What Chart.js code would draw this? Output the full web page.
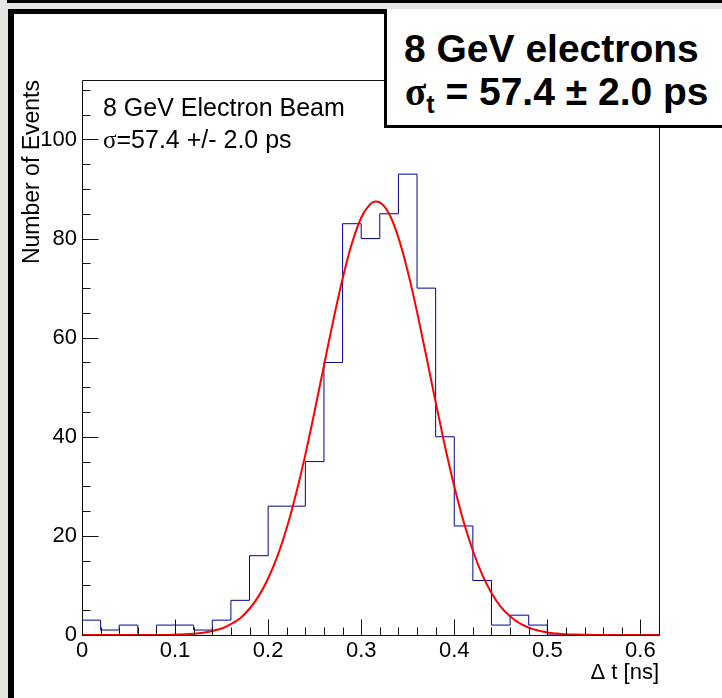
<!DOCTYPE html>
<html>
<head>
<meta charset="utf-8">
<script src="https://cdn.jsdelivr.net/npm/chart.js@4.4.1/dist/chart.umd.min.js"></script>
<style>
  html, body { margin: 0; padding: 0; }
  body {
    width: 722px; height: 698px; position: relative; overflow: hidden;
    background: #e6e4e0;
    font-family: "Liberation Sans", Arial, Helvetica, sans-serif;
  }
  #wrap { position: absolute; left: 0; top: 0; width: 722px; height: 698px; background: #fff; }
  .blk { position: absolute; background: #000; }
  .gry { position: absolute; background: #e6e4e0; }
  .txt { position: absolute; white-space: nowrap; line-height: 1; color: #000; }
  .sym { font-family: "Liberation Serif", "DejaVu Serif", serif; }
  #box {
    position: absolute; left: 384px; top: 9px; width: 400px; height: 119px;
    box-sizing: border-box; background: #fff;
    border-left: 3px solid #000; border-bottom: 3px solid #000;
  }
  .big { font-size: 39px; font-weight: bold; }
  .sub { font-size: 25px; position: relative; top: 8px; }
</style>
</head>
<body>
<div id="wrap"><canvas id="chart" width="722" height="698"></canvas></div>

<!-- slide edges -->
<div class="gry" style="left:0; top:0; width:8px; height:698px;"></div>
<div class="gry" style="left:0; top:0; width:722px; height:9px;"></div>
<div class="blk" style="left:7px; top:0; width:715px; height:3px;"></div>
<div class="blk" style="left:8px; top:9px; width:714px; height:5px;"></div>
<div class="blk" style="left:8px; top:9px; width:6px; height:689px;"></div>

<!-- text inside the frame -->
<div class="txt" style="left:103px; top:95px; font-size:25px;">8 GeV Electron Beam</div>
<div class="txt" style="left:103px; top:127px; font-size:25px;"><span class="sym">σ</span>=57.4 +/- 2.0 ps</div>

<!-- result box -->
<div id="box"></div>
<div class="txt big" style="left:404px; top:29px;">8 GeV electrons</div>
<div class="txt big" style="left:405px; top:72px;"><span class="sym">σ</span><span class="sub">t</span> = 57.4 ± 2.0 ps</div>

<script>
// ── Data ────────────────────────────────────────────────
// histogram: bin edges (ns) and counts per 0.02 ns bin
const BIN_EDGES = [0.00, 0.02, 0.04, 0.06, 0.08, 0.10, 0.12, 0.14, 0.16, 0.18,
                   0.20, 0.22, 0.24, 0.26, 0.28, 0.30, 0.32, 0.34, 0.36, 0.38,
                   0.40, 0.42, 0.44, 0.46, 0.48, 0.50, 0.52, 0.54, 0.56, 0.58,
                   0.60, 0.62];
const COUNTS = [3, 1, 2, 0, 2, 2, 1, 3, 7, 16,
                26, 26, 35, 55, 83, 80, 85, 93, 70, 40,
                22, 11, 2, 4, 2, 0, 0, 0, 0, 0,
                0];

// gaussian fit curve
const FIT_X = [0.00, 0.02, 0.04, 0.06, 0.08, 0.09, 0.10, 0.11, 0.12, 0.13,
               0.14, 0.15, 0.16, 0.17, 0.18, 0.19, 0.20, 0.21, 0.22, 0.23,
               0.24, 0.25, 0.26, 0.27, 0.28, 0.29, 0.30, 0.31, 0.315, 0.32,
               0.33, 0.34, 0.35, 0.36, 0.37, 0.38, 0.39, 0.40, 0.41, 0.42,
               0.43, 0.44, 0.45, 0.46, 0.47, 0.48, 0.49, 0.50, 0.51, 0.52,
               0.53, 0.54, 0.55, 0.56, 0.58, 0.60, 0.62];
const FIT_Y = [0, 0, 0, 0, 0, 0.02, 0.07, 0.14, 0.26, 0.46,
               0.8, 1.3, 2.2, 3.4, 5.3, 7.9, 11.4, 15.9, 21.6, 28.5,
               36.4, 45.2, 54.4, 63.5, 71.9, 79.0, 84.2, 87.0, 87.5, 87.3,
               85.0, 80.2, 73.4, 65.2, 56.2, 47.0, 38.1, 30.0, 22.9, 17.0,
               12.2, 8.5, 5.7, 3.8, 2.4, 1.5, 0.9, 0.5, 0.29, 0.15,
               0.08, 0.04, 0.02, 0, 0, 0, 0];

const X_TICKS = [0, 0.1, 0.2, 0.3, 0.4, 0.5, 0.6];
const X_TICK_LABELS = ['0', '0.1', '0.2', '0.3', '0.4', '0.5', '0.6'];
const Y_TICKS = [0, 20, 40, 60, 80, 100];
const Y_TICK_LABELS = ['0', '20', '40', '60', '80', '100'];

const FONT = '"Liberation Sans", Arial, Helvetica, sans-serif';

// ── ROOT style frame with inward ticks ──────────────────
const rootFrame = {
    id: 'rootFrame',
    afterDraw(chart) {
        const { ctx, chartArea: a, scales: { x, y } } = chart;
        const L = Math.round(a.left) + 0.5, R = Math.round(a.right) + 0.5;
        const T = Math.round(a.top) + 0.5, B = Math.round(a.bottom) + 0.5;
        ctx.save();
        ctx.strokeStyle = '#111';
        ctx.lineWidth = 1;
        ctx.beginPath();
        ctx.rect(L, T, R - L, B - T);

        // x: minor every 0.02, major on labelled ticks
        for (let i = 0; i * 0.02 <= x.max + 1e-9; i++) {
            const v = i * 0.02;
            const px = Math.round(x.getPixelForValue(v)) + 0.5;
            const major = X_TICKS.some(t => Math.abs(t - v) < 1e-6);
            ctx.moveTo(px, B);
            ctx.lineTo(px, B - (major ? 16 : 8));
        }
        // y: minor every 5, major on labelled ticks
        for (let v = 0; v <= y.max; v += 5) {
            const py = Math.round(y.getPixelForValue(v)) + 0.5;
            const major = Y_TICKS.includes(v);
            ctx.moveTo(L, py);
            ctx.lineTo(L + (major ? 16 : 8), py);
        }
        ctx.stroke();
        ctx.restore();
    }
};

// ── Chart ───────────────────────────────────────────────
const histPoints = COUNTS.map((c, i) => ({ x: BIN_EDGES[i], y: c }));
histPoints.push({ x: BIN_EDGES[COUNTS.length], y: COUNTS[COUNTS.length - 1] });
const fitPoints = FIT_X.map((v, i) => ({ x: v, y: FIT_Y[i] }));

new Chart(document.getElementById('chart'), {
    type: 'line',
    data: {
        datasets: [
            {
                label: 'fit',
                data: fitPoints,
                borderColor: '#ff0000',
                borderWidth: 2,
                cubicInterpolationMode: 'monotone',
                pointRadius: 0,
                fill: false
            },
            {
                label: 'hist',
                data: histPoints,
                borderColor: '#000099',
                borderWidth: 1,
                stepped: true,
                pointRadius: 0,
                fill: false
            }
        ]
    },
    options: {
        responsive: false,
        animation: false,
        devicePixelRatio: 1,
        layout: { padding: { left: 0, top: 80, right: 63, bottom: 0 } },
        plugins: { legend: { display: false }, tooltip: { enabled: false } },
        scales: {
            x: {
                type: 'linear', min: 0, max: 0.62,
                grid: { display: false, drawTicks: false, tickLength: 0 },
                border: { display: false },
                afterBuildTicks: s => { s.ticks = X_TICKS.map(v => ({ value: v })); },
                afterFit: s => { s.height = 63; },
                ticks: {
                    color: '#000', padding: 3, maxRotation: 0, autoSkip: false,
                    font: { family: FONT, size: 22 },
                    callback: (v, i) => X_TICK_LABELS[i]
                },
                title: {
                    display: true, text: 'Δ t [ns]', align: 'end', color: '#000',
                    font: { family: FONT, size: 22 },
                    padding: { top: 0, bottom: 12 }
                }
            },
            y: {
                type: 'linear', min: 0, max: 112,
                grid: { display: false, drawTicks: false, tickLength: 0 },
                border: { display: false },
                afterBuildTicks: s => { s.ticks = Y_TICKS.map(v => ({ value: v })); },
                afterFit: s => { s.width = 82; },
                ticks: {
                    color: '#000', padding: 5, autoSkip: false,
                    font: { family: FONT, size: 22 },
                    callback: (v, i) => Y_TICK_LABELS[i]
                },
                title: {
                    display: true, text: 'Number of Events', align: 'end', color: '#000',
                    font: { family: FONT, size: 23 },
                    padding: { top: 19, bottom: 0 }
                }
            }
        }
    },
    plugins: [rootFrame]
});
</script>
</body>
</html>
